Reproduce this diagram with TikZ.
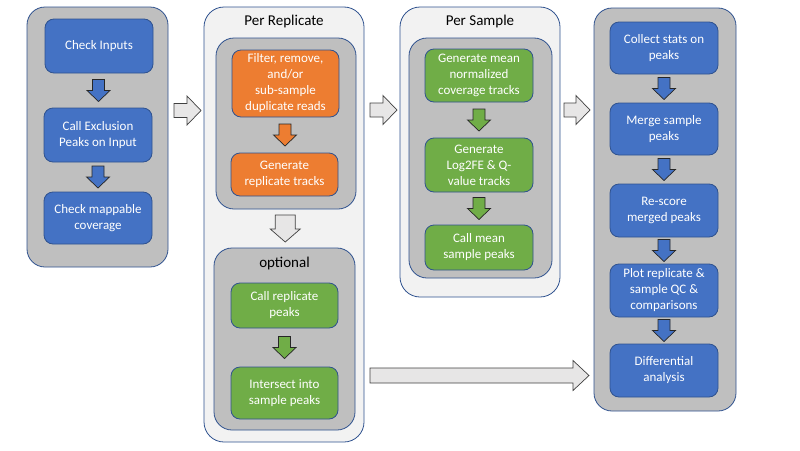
\documentclass[tikz,border=0pt]{standalone}
\usepackage{fontspec}
\setmainfont{Carlito}
\usetikzlibrary{calc}
\definecolor{pblue}{HTML}{4472C4}
\definecolor{pborder}{HTML}{2F528F}
\definecolor{porange}{HTML}{ED7D31}
\definecolor{pgreen}{HTML}{70AD47}
\definecolor{pgray}{HTML}{BFBFBF}
\definecolor{plight}{HTML}{F2F2F2}
\definecolor{parrow}{HTML}{E7E6E6}
\definecolor{pdark}{HTML}{262626}
\tikzset{
  boxbase/.style={draw=pborder, line width=0.8pt, rounded corners=9pt, align=center,
    text=white, inner sep=2pt, font=\fontsize{13}{16}\selectfont},
  bluebox/.style={boxbase, fill=pblue},
  orangebox/.style={boxbase, fill=porange},
  greenbox/.style={boxbase, fill=pgreen},
  graybox/.style={draw=pborder, line width=0.8pt, fill=pgray, rounded corners=18pt},
  lightbox/.style={draw=pborder, line width=0.8pt, fill=plight, rounded corners=20pt},
  titletext/.style={font=\fontsize{15}{18}\selectfont, text=black},
  barrow/.style={draw=pdark, line width=0.7pt, line join=miter},
  warrow/.style={barrow, fill=parrow, draw=black!75},
}
% vertical block arrow centred between #1.south and #2.north
% #3 style, #4 shaft half width, #5 head half width, #6 length, #7 head length
\newcommand\vblock[7]{%
  \coordinate (vm) at ($(#1.south)!0.5!(#2.north)$);
  \draw[barrow,#3] ([shift={(-#4,-#6/2)}]vm) -- ([shift={(#4,-#6/2)}]vm)
    -- ([shift={(#4,#6/2-#7)}]vm) -- ([shift={(#5,#6/2-#7)}]vm)
    -- ([shift={(0,#6/2)}]vm) -- ([shift={(-#5,#6/2-#7)}]vm)
    -- ([shift={(-#4,#6/2-#7)}]vm) -- cycle;}
% horizontal block arrow: #1 style, #2 x start, #3 x tip, #4 y,
% #5 shaft half height, #6 head half height, #7 head length
\newcommand\hblock[7]{%
  \draw[#1] ({#2},{#4-#5}) -- ({#3-#7},{#4-#5}) -- ({#3-#7},{#4-#6})
    -- ({#3},{#4}) -- ({#3-#7},{#4+#6}) -- ({#3-#7},{#4+#5})
    -- ({#2},{#4+#5}) -- cycle;}
\begin{document}
\begin{tikzpicture}[x=1pt,y=-1pt]
\useasboundingbox (0,0) rectangle (800,450);
% column 1
\node[graybox, minimum width=141, minimum height=260] (c1) at (97.5,137) {};
\node[bluebox, minimum width=108, minimum height=54] (a1) at (99,46) {Check Inputs};
\node[bluebox, minimum width=108, minimum height=54] (a2) at (98,135) {Call Exclusion\\Peaks on Input};
\node[bluebox, minimum width=108, minimum height=52] (a3) at (98,218) {Check mappable\\coverage};
\vblock{a1}{a2}{fill=pblue}{6}{11.5}{22}{11}
\vblock{a2}{a3}{fill=pblue}{6}{11.5}{22}{11}
% column 2
\node[lightbox, minimum width=160, minimum height=435] (c2) at (284,224.5) {};
\node[titletext] (t2) at (284,21) {Per Replicate};
\node[graybox, minimum width=140, minimum height=171] (i21) at (286,123.5) {};
\node[orangebox, minimum width=107, minimum height=67] (o1) at (285.5,83.5) {Filter, remove,\\and/or\\sub-sample\\duplicate reads};
\node[orangebox, minimum width=107, minimum height=43] (o2) at (284.5,174.5) {Generate\\replicate tracks};
\vblock{o1}{o2}{fill=porange}{6}{11.5}{22}{11}
\node[graybox, minimum width=141, minimum height=182] (i22) at (284.5,339) {};
\node[titletext] (t22) at (284.5,263) {optional};
\node[greenbox, minimum width=107, minimum height=45] (g1) at (284.5,305.5) {Call replicate\\peaks};
\node[greenbox, minimum width=107, minimum height=52] (g2) at (284.5,393) {Intersect into\\sample peaks};
\vblock{g1}{g2}{fill=pgreen}{6}{11.5}{22}{11}
\vblock{i21}{i22}{warrow}{10}{15}{27}{13}
% column 3
\node[lightbox, minimum width=160, minimum height=290] (c3) at (480,152) {};
\node[titletext] (t3) at (480,21) {Per Sample};
\node[graybox, minimum width=143, minimum height=240] (i3) at (480.5,158) {};
\node[greenbox, minimum width=108, minimum height=53] (s1) at (479,75.5) {Generate mean\\normalized\\coverage tracks};
\node[greenbox, minimum width=108, minimum height=54] (s2) at (479,165) {Generate\\Log2FE \& Q-\\value tracks};
\node[greenbox, minimum width=108, minimum height=45] (s3) at (479,247.5) {Call mean\\sample peaks};
\vblock{s1}{s2}{fill=pgreen}{6}{11.5}{22}{11}
\vblock{s2}{s3}{fill=pgreen}{6}{11.5}{22}{11}
% column 4
\node[graybox, minimum width=142, minimum height=403] (c4) at (665,209.5) {};
\node[bluebox, minimum width=108, minimum height=52] (d1) at (664,48) {Collect stats on\\peaks};
\node[bluebox, minimum width=108, minimum height=52] (d2) at (664,129) {Merge sample\\peaks};
\node[bluebox, minimum width=108, minimum height=53] (d3) at (664,210.5) {Re-score\\merged peaks};
\node[bluebox, minimum width=108, minimum height=53] (d4) at (664,290.5) {Plot replicate \&\\sample QC \&\\comparisons};
\node[bluebox, minimum width=108, minimum height=53] (d5) at (664,370.5) {Differential\\analysis};
\vblock{d1}{d2}{fill=pblue}{6}{11.5}{22}{11}
\vblock{d2}{d3}{fill=pblue}{6}{11.5}{22}{11}
\vblock{d3}{d4}{fill=pblue}{6}{11.5}{22}{11}
\vblock{d4}{d5}{fill=pblue}{6}{11.5}{22}{11}
% horizontal arrows between columns
\hblock{warrow}{174}{201}{110.5}{7}{14.5}{14}
\hblock{warrow}{370}{397}{110}{7}{14.5}{14}
\hblock{warrow}{564}{590}{110}{7}{14.5}{14}
\hblock{warrow}{370}{589}{375.5}{7.5}{15}{16}
\end{tikzpicture}
\end{document}
